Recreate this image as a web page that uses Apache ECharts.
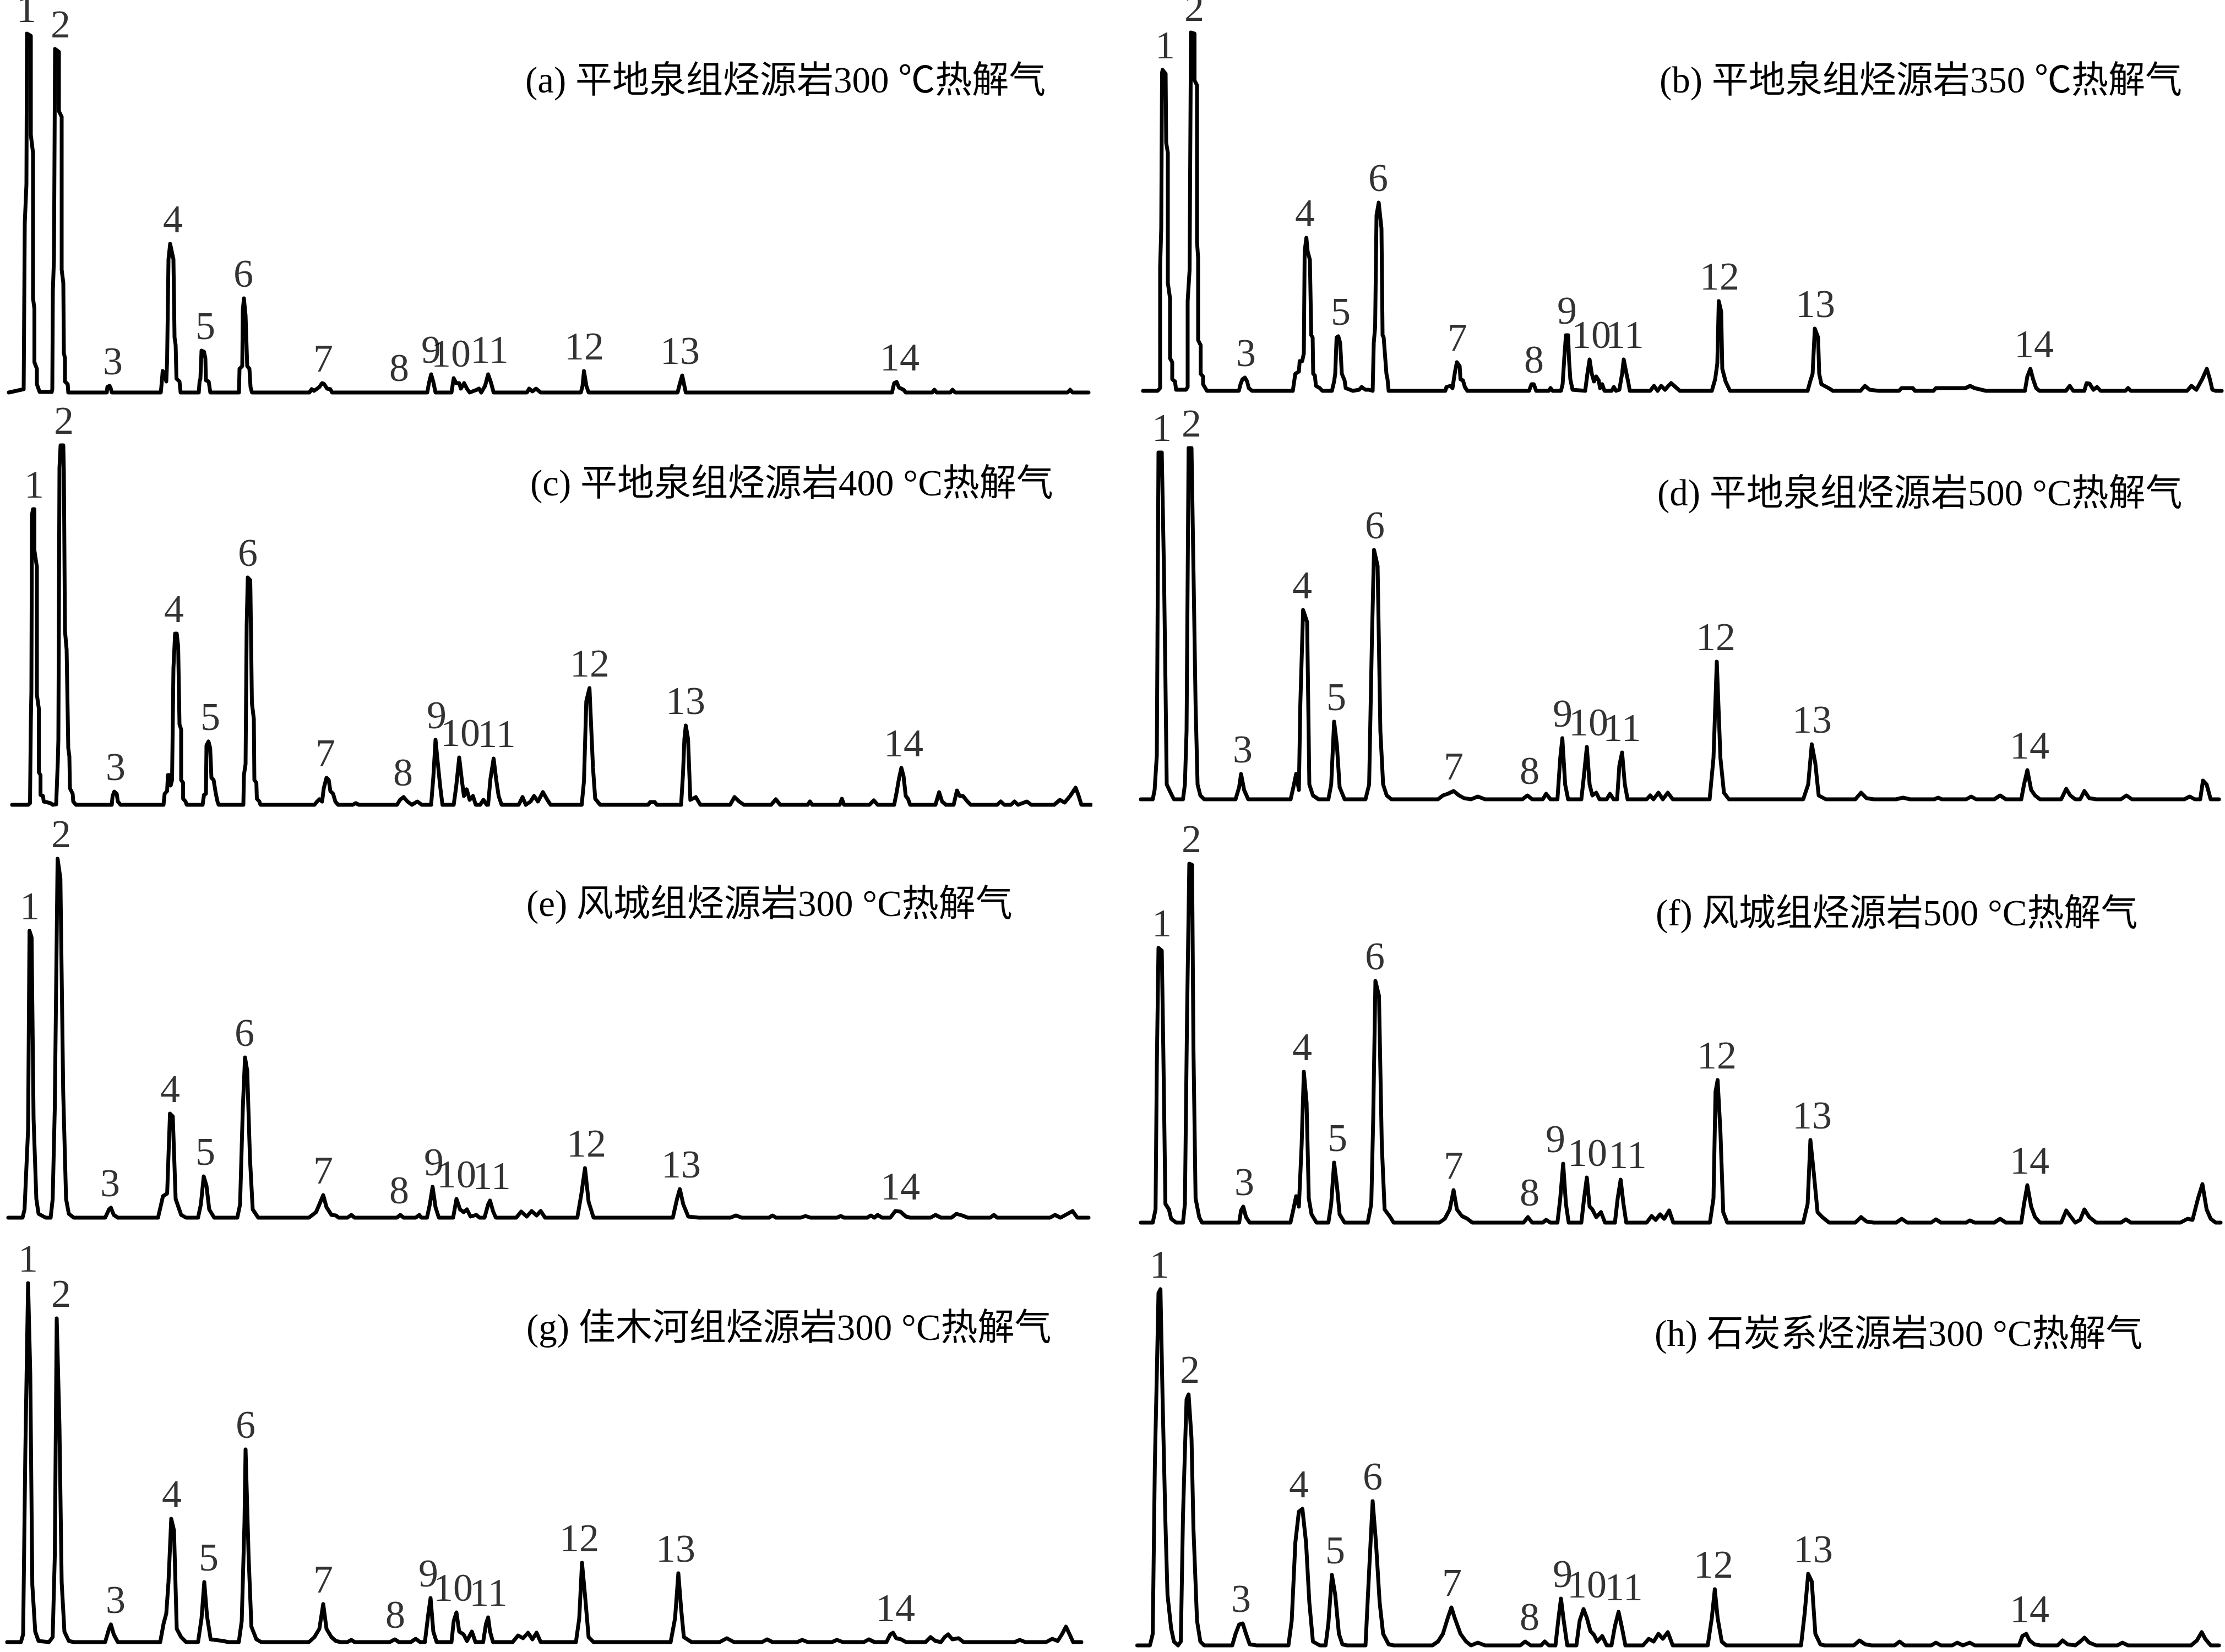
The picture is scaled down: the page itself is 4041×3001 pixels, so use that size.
<!DOCTYPE html>
<html>
<head>
<meta charset="utf-8">
<script src="https://cdn.jsdelivr.net/npm/echarts@6/dist/echarts.min.js"></script>
<style>
  html, body { margin: 0; padding: 0; background: #ffffff; }
  #chart { width: 4041px; height: 3001px; }
</style>
</head>
<body>
<div id="chart"></div>
<script>
// Pyrolysis-gas chromatograms: [retention position, detector response] vertices of each trace.
const traceA = [[16,0],[43,6],[45,308],[48,378],[49,652],[56,648],[56,468],[60,435],[60,171],[62.5,152],[62.5,55],[67,43],[67,15],[72,1],[94,1],[95,6],[96,185],[98,242],[100,624],[107,619],[107,511],[112,501],[112,223],[115,199],[116,72],[118,62],[118,20],[123,15],[124,0],
[194,0],[195,10],[199,12],[201,8],[203,0],
[292,0],[293,10],[295.5,39],[299,34],[302,20],[303.5,58],[306,242],[309,270],[315,242],[317,100],[319,86],[320.5,25],[326,20],[328,0],
[361,0],[362.5,20],[364,25],[366,76],[370.5,74],[373,62],[374,22],[379,20],[382,0],
[434,0],[435,43],[440,48],[441,150],[443,171],[446,140],[449,48],[453,43],[455,10],[457.5,0],
[562,0],[566,6],[570.5,3],[580,10],[585,17],[589,15],[594,7],[600,6],[603,0],
[776,0],[779,17],[783,33],[787,19],[791,0],
[820,0],[824,26],[828.5,17],[834,17],[837,7],[843,17],[848,7],[853,0],
[866,5],[870,7],[874,0],
[881,12],[886.5,33],[892,17],[896.5,0],
[957,0],[961,7],[967,2],[973.5,7],[982,0],
[1055,0],[1058,12],[1060.6,39],[1065,12],[1069,0],
[1230.6,0],[1235,17],[1239,31],[1243,12],[1245.5,0],
[1620,0],[1624,17],[1628.5,19],[1632.6,9],[1641,5],[1645,0],
[1693,0],[1697,5],[1701,0],
[1726,0],[1730,5],[1734.6,0],
[1939,0],[1943.5,5],[1948,0],
[1977,0]];

const traceB = [[16,0],[42.5,0],[47,5],[47,224],[49,295],[50.5,578],[51.4,583],[57,576],[58,451],[61,432],[61,196],[65,168],[65,59],[69,52],[69,21],[74,17],[76,2],[94,2],[97,7],[97,163],[100.5,219],[103,651],[109.5,649],[109.5,564],[114,555],[114,271],[116,241],[116,92],[120.6,83],[120.6,31],[125,26],[125,12],[132,0],
[190,0],[193,12],[196.5,21],[201,24],[205,17],[208,5],[214,0],
[288,0],[292.5,31],[299,35],[300.5,54],[305,54],[308,68],[309.5,253],[312.6,278],[315,253],[319,238],[321.5,101],[324,97],[325,31],[328,28],[330,9],[337,5],[341.6,0],
[359,0],[363,17],[365,31],[367.5,97],[370.6,99],[374,87],[377,31],[382,19],[384,5],[397,0],
[408.5,2],[413,7],[420,2],[426,2],
[433,0],[435,87],[437.5,116],[440,319],[444,342],[449,295],[451,101],[453,97],[458,31],[460,21],[462,0],
[565,0],[567,7],[574,9],[578,5],[582.6,35],[586,52],[591,45],[592.5,21],[597,19],[600.5,7],[605,0],
[717,0],[721.5,12],[725.6,12],[730,0],
[753,0],[756,5],[760,0],
[775,0],[778,12],[781,59],[784,101],[788,101],[789.5,59],[792,21],[796,2],
[819,0],[823,31],[827,57],[831,31],[835,17],[839,26],[843.5,19],[846,5],[850,12],[854,0],
[867,0],[871,7],[875,0],
[881,2],[886,31],[889,57],[894,31],[897,17],[900,0],
[937,0],[944,9],[950.5,0],[957,9],[964,2],[970,9],[975,14],[983,7],[991,0],
[1049,0],[1055,21],[1059,50],[1061.6,163],[1066,144],[1068,40],[1074,17],[1082,0],
[1223,0],[1227.6,17],[1232,31],[1236,113],[1242,97],[1244,31],[1248,12],[1261,5],[1269,0],
[1319,0],[1327,9],[1335.5,2],[1352,0],
[1389,0],[1393.5,5],[1414,5],[1418,0],
[1451.6,0],[1456,5],[1510,5],[1518,9],[1526,5],[1547,0],
[1617.6,0],[1622,26],[1627.5,40],[1632.5,21],[1638,5],[1644,0],
[1692,0],[1699,9],[1705.5,0],
[1725.5,0],[1729.6,14],[1735,13],[1742,2],[1748.6,7],[1755,0],
[1800,0],[1805,5],[1810,0],
[1912,0],[1920,9],[1929,2],[1939.5,21],[1948,40],[1953.6,21],[1958,2],[1964,0],
[1975,0]];

const traceC = [[22,0],[51,0],[54.5,3],[56,151],[57,205],[58,527],[60,537],[62.5,537],[62.5,462],[67,432],[67,200],[70.5,175],[70.5,59],[73.6,54],[73.6,18],[78,16],[79.5,6],[91.5,3],[96,0],[102,1],[105,79],[106,117],[108,612],[110,653],[115,653],[116,603],[118,316],[121,282],[124,103],[126,88],[127,30],[132,20],[133,6],[138,0],
[203,0],[204.5,16],[207.6,24],[212,20],[214,6],[219,0],
[297,0],[299,20],[303.5,25],[305,54],[308,54],[310,35],[312.5,45],[315,248],[318,311],[321,311],[323.6,287],[326,146],[329,137],[329,45],[332.6,40],[332.6,11],[337,6],[339,0],
[368,0],[370.5,18],[374,20],[375,108],[378.6,115],[381.7,103],[384,49],[388,45],[392,20],[395,6],[397,0],
[442,0],[443,54],[446,74],[448,326],[450,413],[454.5,408],[455,378],[457.5,185],[461,156],[462,45],[465.6,40],[466.5,11],[471,6],[473,0],
[571,0],[576,6],[580,10],[585,6],[588,30],[593,49],[597,45],[600,25],[605,20],[609,6],[614,0],
[640.6,0],[646,3],[652,0],
[721,0],[726.5,9],[733,14],[740,6],[748,0],[758,6],[766,0],
[783,0],[787,50],[791,118],[795,77],[799.5,33],[803.6,0],
[824,0],[828.5,33],[834,86],[839,43],[842.6,16],[847.6,28],[853,9],[859,16],[864,0],
[872,0],[878,9],[884,0],
[886.5,0],[890.7,47],[896.5,84],[901,47],[905.6,16],[911,0],
[942,0],[949,14],[955,0],[963.6,6],[970,16],[977,6],[986,23],[994,9],[1000,0],
[1056.5,0],[1060.6,43],[1064.8,188],[1070.6,212],[1077,67],[1081,11],[1090,0],
[1177,0],[1181,5],[1189,5],[1193,0],
[1237,0],[1240.5,57],[1243,120],[1245.5,144],[1249.6,120],[1253.8,9],[1263.7,14],[1272,0],
[1326,0],[1334,14],[1342.5,6],[1351,0],
[1400.5,0],[1409,10],[1417,0],
[1467,0],[1471,6],[1475,0],
[1525,0],[1529,11],[1533,0],
[1579,0],[1587,8],[1594,0],
[1624,0],[1628.5,23],[1632.6,47],[1637,67],[1641,52],[1645,16],[1649,11],[1653,0],
[1699,0],[1705.6,23],[1711,6],[1718,0],
[1732,0],[1738,26],[1743,16],[1749,16],[1757,6],[1763,0],
[1811,0],[1817.5,6],[1824,0],
[1836,0],[1842.5,6],[1849,0],[1865,6],[1873,0],
[1914.5,0],[1925,9],[1933.5,4],[1943.5,16],[1953.5,31],[1958.5,18],[1964,0],
[1982,0]];

const traceD = [[12,0],[33.6,0],[37,17],[41,80],[44,630],[50,630],[54,414],[56.6,220],[59,27],[67,10],[72,0],
[88.5,0],[92,27],[95,124],[98.7,638],[104,638],[107.6,414],[111.4,172],[115,27],[120,7],[127,0],
[184,0],[190.5,22],[194,46],[199.5,17],[207,0],
[284,0],[289,22],[294,46],[299,17],[301.6,172],[306.7,344],[314,322],[318,27],[324.5,7],[334.7,0],
[352.6,0],[357.7,27],[363,141],[368,99],[373,22],[382,0],
[420,0],[426.6,27],[431.7,293],[435.5,453],[442,424],[447,124],[452,27],[458.5,7],[467,0],
[551.6,0],[560.6,7],[569.5,10],[580,15],[590,7],[599,2],[611.6,0],[624,5],[637,0],
[705,0],[714,7],[722.6,0],[742,0],[748,10],[756,0],
[768.6,0],[773.7,75],[777.5,111],[782.6,27],[788,0],
[812,0],[816,36],[822,95],[827,27],[832,7],[839,12],[845,0],
[858,0],[864,10],[870.6,0],
[877,0],[881,61],[886,85],[891,27],[896,0],
[930.6,0],[937,7],[943,0],[952,12],[960,0],[969,12],[978,0],
[1045,0],[1052,75],[1058,250],[1064.6,75],[1071,12],[1080,0],
[1215,0],[1224,27],[1230.5,100],[1237,65],[1243,7],[1256,0],
[1309.6,0],[1320,12],[1330,2],[1343,0],
[1383.6,0],[1396,3],[1409,0],
[1453,0],[1460,3],[1466.5,0],
[1511,0],[1520,5],[1529,0],
[1562,0],[1572.5,7],[1583,0],
[1611,0],[1616,27],[1622,53],[1629,17],[1636,7],[1645,0],
[1683.5,0],[1692.6,19],[1700,7],[1709,0],[1718,0],[1725.6,15],[1734.5,2],[1747,0],
[1792,0],[1802,7],[1812,0],
[1907,0],[1917,5],[1926,0],[1936,0],[1941,34],[1947.6,27],[1955,0],
[1970,0]];

const traceE = [[15,0],[41,0],[44.6,15],[51,160],[53.6,521],[57.4,509],[61,179],[66,34],[70,7],[83,0],
[92,0],[95.7,34],[99.5,199],[104.6,652],[109.7,616],[114.8,228],[120,34],[125,7],[134,0],
[191,0],[198,15],[201.5,18],[206.6,5],[214,0],
[287,0],[296,39],[303.6,44],[308.7,189],[313.8,184],[319,34],[329,5],[338,0],
[359.7,0],[364.8,24],[370,75],[375,58],[380,15],[389,0],
[431,0],[436,24],[441,199],[445,291],[449,267],[454,107],[459,15],[469,0],
[561,0],[574,10],[580,24],[587,41],[593,19],[602,5],[610,4],[615,0],[631,0],[638,5],[644,0],
[720.7,0],[727,5],[733,0],[755,0],[761.5,5],[765,0],
[775.5,0],[780.6,24],[785.7,56],[791,19],[797,0],
[823,0],[829,34],[835.5,15],[842,10],[848,15],[854.6,2],[865,5],[871,0],
[880,0],[886.5,24],[890,31],[895.4,12],[900.5,0],
[937.5,0],[946.6,11],[956.6,2],[965.6,12],[974.5,4],[982,12],[990,0],
[1048.5,0],[1056,44],[1062.5,90],[1069,29],[1078,0],
[1222,0],[1229.6,34],[1234.7,52],[1241,24],[1250,2],[1269,0],
[1326.5,0],[1336.7,4],[1347,0],
[1396.7,0],[1403,4],[1409.4,0],
[1454,0],[1463,3],[1472,0],
[1520,0],[1527,3],[1533,0],
[1575,0],[1581.6,4],[1588,0],[1594,5],[1602,0],
[1617,0],[1626,12],[1635,11],[1645.5,2],[1653,0],
[1690,0],[1699,5],[1709,0],[1728,0],[1737,7],[1747.6,4],[1757.6,0],
[1798.5,0],[1805,5],[1811,0],
[1907,0],[1916,5],[1926,0],[1939,7],[1948,12],[1956.6,0],
[1977,0]];

const traceF = [[12,0],[33.6,0],[38.7,24],[41,286],[44,499],[50,494],[52.7,320],[56.6,34],[63,24],[67,7],[76,0],
[88.5,0],[92,34],[96,383],[100,652],[105,650],[107.6,310],[111.4,44],[118,10],[123,0],
[190.5,0],[194,22],[198,29],[203,10],[209.7,0],
[283.7,0],[289,24],[294,48],[299,29],[304,141],[308,274],[313,218],[317,44],[322,15],[331,0],
[352.6,0],[357.7,34],[363,109],[368,68],[373,15],[382,0],
[424,0],[430.5,34],[434,189],[438,439],[444.5,412],[449.6,141],[454.7,24],[465,10],[471,0],
[554,0],[564,7],[573,24],[580,59],[586,24],[595,12],[605,7],[614,0],
[707,0],[715,10],[722.6,0],[742,0],[748,5],[756,0],
[768.6,0],[773.7,44],[779,107],[784,34],[789,0],
[812,0],[817,44],[822,82],[827,29],[832,24],[839,10],[847.7,19],[855,0],
[873,0],[878,44],[883.4,78],[888.5,34],[893.6,0],
[930.6,0],[939.6,12],[947,5],[955,15],[962.5,7],[971.5,22],[979,0],
[1045.5,0],[1052,44],[1055.7,238],[1059.5,259],[1064.6,165],[1069.7,19],[1077,0],
[1215,0],[1223,34],[1228,150],[1234,92],[1241,19],[1249.6,10],[1262,0],
[1309.6,0],[1320,10],[1330,2],[1343,0],
[1383.6,0],[1394,7],[1404,0],
[1447.4,0],[1456,6],[1465,0],
[1511,0],[1517.6,4],[1526.5,0],
[1562,0],[1572.5,7],[1583,0],
[1611,0],[1616,34],[1622,68],[1629,29],[1636,10],[1645,0],
[1683.5,0],[1692.6,22],[1700,12],[1709,0],[1718,5],[1725.6,24],[1734.5,10],[1747,0],
[1792,0],[1801,6],[1810,0],
[1900,0],[1913,7],[1922,5],[1932,44],[1940,70],[1947.6,24],[1955,7],[1964,0],
[1973,0]];

const traceG = [[13,0],[38,0],[42,14],[46,345],[51,652],[55,487],[58.7,104],[64,19],[70,2],[89,0],
[95.7,9],[99.5,156],[103,588],[108,392],[112,109],[117,19],[125,2],[134,0],
[191,0],[198,24],[201.5,32],[206.6,14],[214,0],
[291,0],[297,33],[302,52],[306,109],[311,224],[316,203],[321,24],[329,9],[338,0],
[359.7,0],[366,43],[371,109],[376,47],[382.6,5],[405.6,2],[414.5,0],
[433.7,0],[439,38],[444,217],[446,350],[451.5,156],[456.6,28],[465.6,5],[474.5,0],
[561,0],[571,9],[580,24],[587,69],[593,24],[602,9],[610,2],[618.6,0],
[631,0],[638,4],[644,0],
[708,0],[717,5],[724.5,0],[746,0],[755,6],[763,0],
[771.7,0],[778,52],[782,80],[787,19],[793,0],
[820,0],[824,38],[829,54],[834,19],[842,14],[848,2],[857,19],[863.5,0],
[877.5,0],[882.6,33],[886.5,45],[890,19],[895.4,0],
[931,0],[941,12],[950,7],[959,17],[967,5],[974.5,17],[982,0],
[1046,0],[1052,43],[1057,144],[1062.5,85],[1069,9],[1078,0],
[1218,0],[1226,43],[1232,125],[1237,61],[1242,9],[1256,0],
[1307,0],[1320,7],[1333,0],
[1384,0],[1393,5],[1403,0],
[1448,0],[1457,4],[1467,0],
[1511,0],[1520,4],[1530.6,0],
[1569,0],[1578,5],[1588,0],
[1610,0],[1617,14],[1622,17],[1627.6,7],[1636.5,5],[1645.4,0],
[1681,0],[1690,9],[1699,2],[1709,0],[1715.6,9],[1722,14],[1729.6,5],[1741,7],[1750,0],
[1843,0],[1852,4],[1862,0],
[1900,0],[1911,6],[1921,2],[1928.6,14],[1936,28],[1942.6,14],[1949,0],
[1964,0]];

const traceH = [[5.5,0],[28.5,0],[33.6,21],[37.4,328],[41,494],[44,640],[47.6,647],[51.5,447],[56.6,224],[60.4,92],[67,31],[72,7],[79.5,0],
[84.6,7],[88.5,234],[92,352],[95,447],[98.7,456],[104,376],[107.6,210],[114,45],[120,7],[127,0],
[178,0],[184,21],[190.5,38],[197,40],[203,21],[209.7,2],[222,0],
[280,0],[286,45],[292.6,187],[299,243],[305.4,248],[312,187],[318,78],[324.5,7],[337,0],
[347.5,0],[352.6,40],[359,128],[365,92],[371.7,21],[378,2],[386,0],
[420,0],[426.6,135],[433,262],[439,187],[445.7,78],[452,21],[462,2],[471,0],
[541.4,0],[551.6,7],[560.6,21],[569.5,50],[576,69],[582,50],[592.5,21],[602.7,7],[611.6,0],[624,5],[637,0],
[701,0],[710,7],[720,0],[739,0],[745.6,7],[753,0],
[765,0],[770,45],[775,85],[780,45],[786.4,0],
[803,0],[809,45],[816,66],[822,50],[828.5,26],[835,19],[841,7],[850,17],[858,0],
[866.8,0],[873,35],[879.6,61],[886,31],[892,0],
[924,0],[934.5,12],[943.4,7],[952,21],[960,12],[969,24],[978,0],
[1041.6,0],[1049,50],[1054.4,102],[1059.5,50],[1067,7],[1075,0],
[1211,0],[1217.7,59],[1224,130],[1230.5,116],[1237,21],[1246,2],[1253.5,0],
[1307,0],[1317,9],[1327.5,2],[1339,0],
[1381,0],[1390,7],[1399,0],
[1447.4,0],[1456,5],[1465,0],
[1485.7,0],[1494.6,5],[1505,0],[1517.6,5],[1526.5,0],
[1607,0],[1613,17],[1620,21],[1626,9],[1635,2],[1645,0],
[1677,0],[1686,9],[1695,2],[1709,0],[1718,7],[1725.6,14],[1734.5,5],[1747,0],
[1785.5,0],[1794.5,5],[1805,0],
[1919.5,0],[1930,9],[1938.7,24],[1945,12],[1955,0],
[1970,0]];

// Peak numbers and the retention position at which each number is written, per chromatogram.
const peakNames = ['1','2','3','4','5','6','7','8','9','10','11','12','13','14'];
const peakRtA = [48, 110, 205, 314, 373, 442, 587, 725, 783, 819, 889, 1061, 1235, 1634];
const peakRtB = [56, 109, 203, 310, 375, 443, 587, 726, 786, 830, 891, 1063, 1237, 1634];
const peakRtC = [62, 116, 210, 316, 382, 450, 591, 732, 793, 836, 902, 1071, 1245, 1641];
const peakRtD = [50, 104, 197, 305, 367, 437, 580, 718, 778, 825, 886, 1056, 1231, 1626];
const peakRtE = [54, 111, 200, 309, 373, 444, 587, 725, 788, 829, 893, 1065, 1237, 1635];
const peakRtF = [50, 104, 200, 305, 369, 437, 580, 718, 765, 823, 896, 1058, 1231, 1626];
const peakRtG = [51, 111, 210, 312, 379, 446, 587, 718, 778, 823, 887, 1052, 1227, 1626];
const peakRtH = [46, 101, 194, 299, 365, 433, 577, 718, 778, 822, 889, 1052, 1233, 1626];

const panelTitles = [
  '(a) 平地泉组烃源岩300 ℃热解气',
  '(b) 平地泉组烃源岩350 ℃热解气',
  '(c) 平地泉组烃源岩400 °C热解气',
  '(d) 平地泉组烃源岩500 °C热解气',
  '(e) 风城组烃源岩300 °C热解气',
  '(f) 风城组烃源岩500 °C热解气',
  '(g) 佳木河组烃源岩300 °C热解气',
  '(h) 石炭系烃源岩300 °C热解气'
];

// ---- layout (pixels) ----
const X_SPAN = 1980;       // retention range shown in each panel
const Y_SPAN = 700;        // response range shown in each panel
const panelLeft = [0, 2060, 0, 2060, 0, 2060, 0, 2060];
const panelBaseline = [713, 710, 1462, 1452, 2212, 2221, 2983, 2989];
const titleX = [954, 3014, 963, 3010, 956, 3007, 956, 3005];
const titleY = [150, 150, 882, 900, 1646, 1663, 2416, 2427];

const traces = [traceA, traceB, traceC, traceD, traceE, traceF, traceG, traceH];
const peakRts = [peakRtA, peakRtB, peakRtC, peakRtD, peakRtE, peakRtF, peakRtG, peakRtH];

const SERIF = '"Liberation Serif", "Times New Roman", "Noto Sans CJK SC", serif';

// apex of the trace near a given retention position, so each number sits on its peak
function apexNear(trace, rt) {
  let top = 0;
  for (const [x, y] of trace) {
    if (x >= rt - 15 && x <= rt + 15 && y > top) top = y;
  }
  return top;
}

const grids = [], xAxes = [], yAxes = [], series = [], graphics = [];
traces.forEach((trace, i) => {
  grids.push({ left: panelLeft[i], top: panelBaseline[i] - Y_SPAN, width: X_SPAN, height: Y_SPAN, containLabel: false });
  xAxes.push({ gridIndex: i, type: 'value', min: 0, max: X_SPAN, show: false, splitLine: { show: false } });
  yAxes.push({ gridIndex: i, type: 'value', min: 0, max: Y_SPAN, show: false, splitLine: { show: false } });
  series.push({
    type: 'line', xAxisIndex: i, yAxisIndex: i, data: trace,
    showSymbol: false, symbol: 'none', smooth: false, clip: false, silent: true,
    lineStyle: { color: '#000000', width: 7, join: 'round', cap: 'round' }
  });
  series.push({
    type: 'scatter', xAxisIndex: i, yAxisIndex: i, silent: true, symbolSize: 1,
    itemStyle: { color: 'rgba(0,0,0,0)' },
    data: peakNames.map((name, k) => ({ name, value: [peakRts[i][k], apexNear(trace, peakRts[i][k])] })),
    label: {
      show: true, position: 'top', distance: 3, formatter: '{b}',
      fontFamily: SERIF, fontSize: 72, lineHeight: 72, color: '#000'
    }
  });
  graphics.push({
    type: 'text', x: titleX[i], y: titleY[i], silent: true,
    style: { text: panelTitles[i], font: '67px ' + SERIF, fill: '#000', align: 'left', verticalAlign: 'middle' }
  });
});

const chart = echarts.init(document.getElementById('chart'), null, { renderer: 'canvas' });
chart.setOption({
  animation: false,
  backgroundColor: '#ffffff',
  grid: grids,
  xAxis: xAxes,
  yAxis: yAxes,
  series: series,
  graphic: graphics
});
</script>
</body>
</html>
